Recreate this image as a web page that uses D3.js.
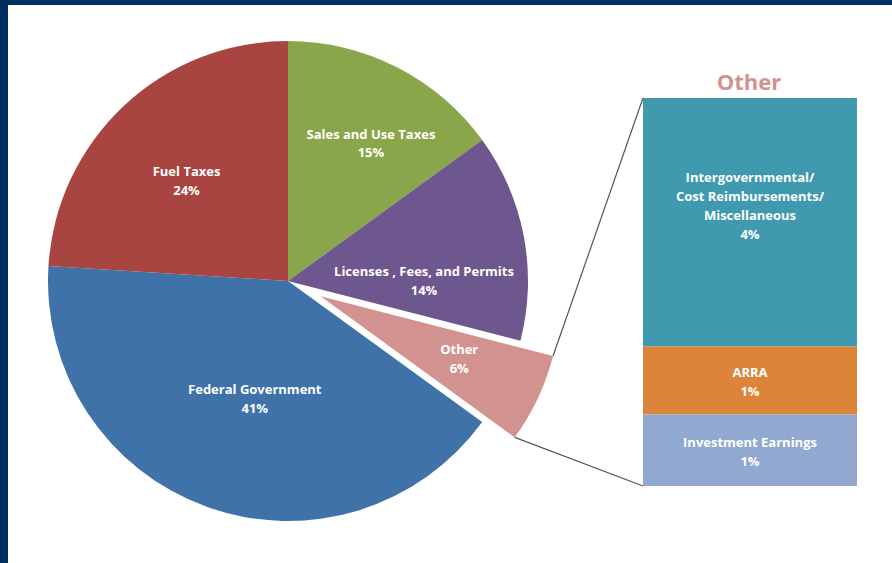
<!DOCTYPE html>
<html><head><meta charset="utf-8">
<script src="https://cdn.jsdelivr.net/npm/d3@7"></script>
<style>html,body{margin:0;padding:0;background:#fff;}svg{display:block;}</style>
</head><body>
<svg id="chart" width="892" height="563"></svg>
<script>
// Data
const categories = ["Sales and Use Taxes", "Licenses , Fees, and Permits", "Other", "Federal Government", "Fuel Taxes"];
const labelLines = [["Sales and Use Taxes"], ["Licenses , Fees, and Permits"], ["Other"], ["Federal Government"], ["Fuel Taxes"]];
const values = [15, 14, 6, 41, 24];
const colors = ["#8AA64B", "#6E568E", "#D29390", "#3F72A9", "#A84541"];

const otherCategories = ["Intergovernmental/ Cost Reimbursements/ Miscellaneous", "ARRA", "Investment Earnings"];
const otherLabelLines = [["Intergovernmental/", "Cost Reimbursements/", "Miscellaneous"], ["ARRA"], ["Investment Earnings"]];
const otherValues = [3.65, 1.0, 1.05];
const otherColors = ["#3F9AAF", "#DC843A", "#91A9D0"];

// Layout
const svg = d3.select("#chart");
const W = 892, H = 563;
svg.append("rect").attr("x",0).attr("y",0).attr("width",W).attr("height",5).attr("fill","#00305F");
svg.append("rect").attr("x",0).attr("y",0).attr("width",8).attr("height",H).attr("fill","#00305F");

const cx = 288, cy = 281, R = 240;
const explodeIndex = 2, explodeDist = 36;
const labelR = [161, 136, 152, 122, 143];
const labelAngleShift = [4, 10.5, -1, -4, -2]; // degrees

const pie = d3.pie().sort(null).value(d => d)(values);
const arc = d3.arc().innerRadius(0).outerRadius(R);
const g = svg.append("g").attr("transform", `translate(${cx},${cy})`);

const font = "'Open Sans', Lato, sans-serif";
const fs = 13;

pie.forEach((p, i) => {
  const mid = (p.startAngle + p.endAngle) / 2;
  const off = i === explodeIndex ? explodeDist : 0;
  const ox = Math.sin(mid) * off, oy = -Math.cos(mid) * off;
  const sg = g.append("g").attr("transform", `translate(${ox},${oy})`);
  sg.append("path").attr("d", arc(p)).attr("fill", colors[i]);
  const la = mid + labelAngleShift[i] * Math.PI / 180;
  const lx = Math.sin(la) * labelR[i], ly = -Math.cos(la) * labelR[i];
  const lines = labelLines[i].concat([Math.round(values[i]) + "%"]);
  const t = sg.append("text").attr("text-anchor","middle").attr("fill","#fff")
    .attr("font-family", font).attr("font-weight","bold").attr("font-size", fs);
  const n = lines.length, lh = 18.5;
  lines.forEach((l, k) => {
    t.append("tspan").attr("x", lx).attr("y", ly + (k - (n - 1) / 2) * lh + 5).text(l);
  });
});

// Stacked bar for Other
const bx = 643, bw = 214, btop = 98, bbot = 486;
const total = d3.sum(otherValues);
const y = d3.scaleLinear().domain([0, total]).range([btop, bbot]);
let acc = 0;
otherValues.forEach((v, i) => {
  const y0 = y(acc), y1 = y(acc + v);
  acc += v;
  svg.append("rect").attr("x", bx).attr("y", y0).attr("width", bw).attr("height", y1 - y0).attr("fill", otherColors[i]);
  const lines = otherLabelLines[i].concat([Math.round(v) + "%"]);
  const n = lines.length, lh = 19;
  const ymid = i === 0 ? y0 + (y1 - y0) * 0.5 - 17 : (y0 + y1) / 2 + 1.5;
  const t = svg.append("text").attr("text-anchor","middle").attr("fill","#fff")
    .attr("font-family", font).attr("font-weight","bold").attr("font-size", fs);
  lines.forEach((l, k) => {
    t.append("tspan").attr("x", bx + bw / 2).attr("y", ymid + (k - (n - 1) / 2) * lh + 5).text(l);
  });
});

svg.append("text").attr("x", bx + bw / 2 - 1).attr("y", 90).attr("text-anchor","middle")
  .attr("fill", "#D29390").attr("font-family", font).attr("font-weight","bold").attr("font-size", 22).text("Other");

// Connector lines from exploded slice to bar
const po = pie[explodeIndex];
const pm = (po.startAngle + po.endAngle) / 2;
const ox = cx + Math.sin(pm) * explodeDist, oy = cy - Math.cos(pm) * explodeDist;
const p1 = [ox + Math.sin(po.startAngle) * R, oy - Math.cos(po.startAngle) * R];
const p2 = [ox + Math.sin(po.endAngle) * R, oy - Math.cos(po.endAngle) * R];
svg.append("line").attr("x1", p1[0]).attr("y1", p1[1]).attr("x2", bx).attr("y2", btop).attr("stroke","#555").attr("stroke-width",1.2);
svg.append("line").attr("x1", p2[0]).attr("y1", p2[1]).attr("x2", bx).attr("y2", bbot).attr("stroke","#555").attr("stroke-width",1.2);
</script>
</body></html>
